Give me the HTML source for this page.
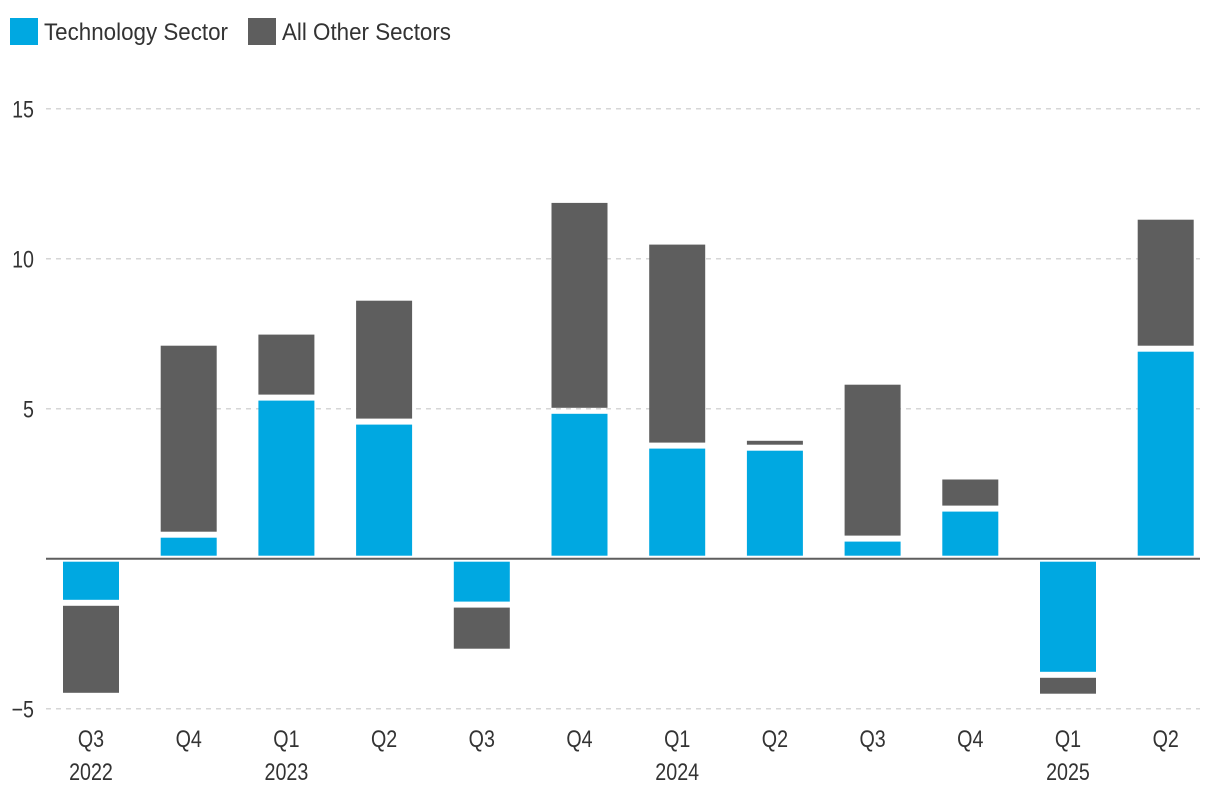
<!DOCTYPE html>
<html><head><meta charset="utf-8"><style>
body{margin:0;background:#fff;}
svg{display:block;font-family:"Liberation Sans Narrow","Liberation Sans",sans-serif;}
</style></head><body>
<svg id="chart" width="1220" height="810">
<g>
<rect x="10" y="18" width="28" height="27" fill="#00a8e1"/>
<text x="44" y="40" font-size="24" fill="#333" textLength="184" lengthAdjust="spacingAndGlyphs">Technology Sector</text>
<rect x="248" y="18" width="28" height="27" fill="#5e5e5e"/>
<text x="282" y="40" font-size="24" fill="#333" textLength="169" lengthAdjust="spacingAndGlyphs">All Other Sectors</text>
</g>
<g id="grid"></g><g id="bars"></g><g id="xaxis"></g>
</svg>
<script>
const quarters=["Q3","Q4","Q1","Q2","Q3","Q4","Q1","Q2","Q3","Q4","Q1","Q2"];
const years=["2022","","2023","","","","2024","","","","2025",""];
const tech=[-1.37,0.7,5.27,4.47,-1.43,4.83,3.67,3.6,0.57,1.57,-3.77,6.9];
const other=[-3.1,6.4,2.2,4.13,-1.57,7.03,6.8,0.33,5.23,1.07,-0.73,4.4];
const yTicks=[-5,5,10,15];
const NS="http://www.w3.org/2000/svg";
const y0=558.7, k=30, x0=91, step=97.7, bw=56, sx=0.82;
const Y=v=>y0-v*k, X=i=>x0+i*step;
function mk(tag,attrs,parent){const e=document.createElementNS(NS,tag);for(const a in attrs)e.setAttribute(a,attrs[a]);parent.appendChild(e);return e;}
const grid=document.getElementById('grid'),bars=document.getElementById('bars'),xa=document.getElementById('xaxis');
function label(x,y,txt,anchor,parent){
 const t=mk('text',{x:x/sx,y:y,'font-size':24,fill:'#333','text-anchor':anchor,transform:'scale('+sx+',1)'},parent);
 t.textContent=txt;return t;
}
yTicks.forEach(t=>{
 const l=mk('line',{x1:46,x2:1200,y1:Y(t),y2:Y(t),stroke:'#d6d6d6','stroke-width':1.5,'stroke-dasharray':'5,5'},grid);
 
 
 const tx=label(34,Y(t)+9,t<0?'\u2212'+Math.abs(t):String(t),'end',grid);
 
 
});
const zl=mk('line',{x1:46,x2:1200,y1:y0,y2:y0,stroke:'#5e5e5e','stroke-width':2},grid);


function seg(a,b,fill,i,name){
 let ya=Y(a),yb=Y(b);let top=Math.min(ya,yb),bot=Math.max(ya,yb);
 const r=mk('rect',{x:X(i)-bw/2,y:top,width:bw,height:Math.max(0,bot-top),fill:fill},bars);
 
 
}
tech.forEach((t,i)=>{
 const s=t>=0?1:-1;
 const g=3/k;
 seg(s*g,t,'#00a8e1',i,'bar-technology-'+i);
 const o=other[i];
 const so=o>=0?1:-1;
 let start=t+so*6/k, end=t+o;
 if(Math.abs(end)>Math.abs(start)||Math.sign(end)!==Math.sign(start)) seg(start,end,'#5e5e5e',i,'bar-other-'+i);
 const q=label(X(i),747,quarters[i],'middle',xa);
 
 
 if(years[i]){const yv=label(X(i),780,years[i],'middle',xa);
 
 }
});
</script>
</body></html>
